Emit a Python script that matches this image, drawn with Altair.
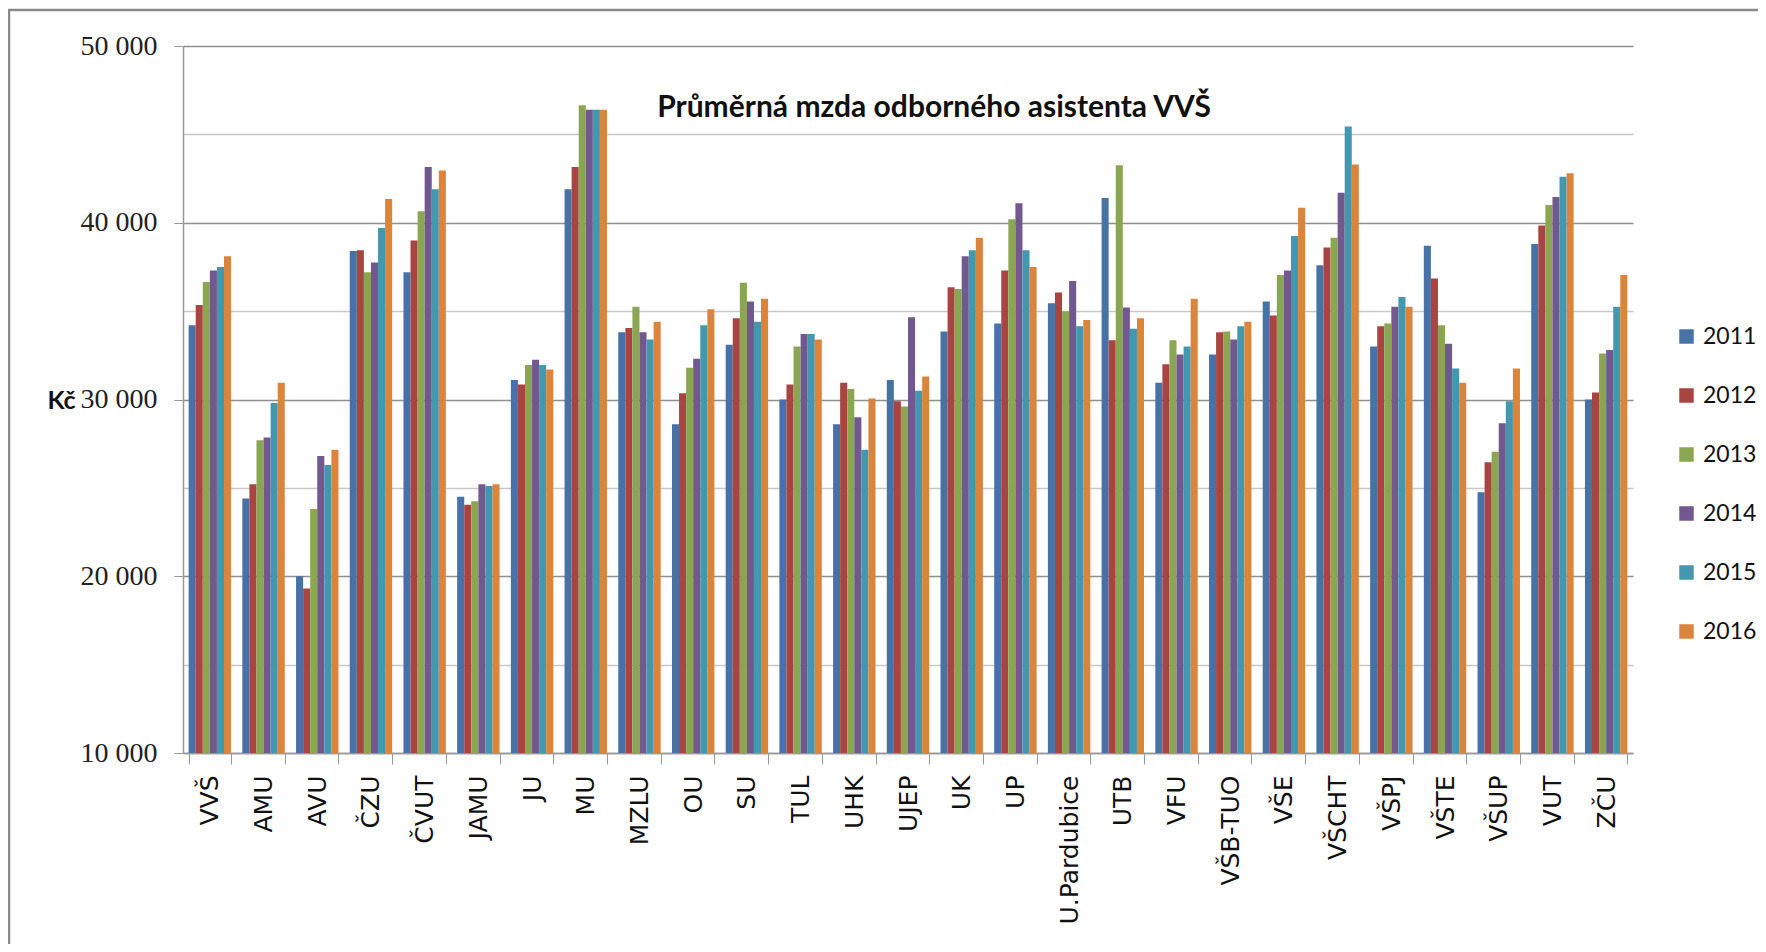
import altair as alt
import pandas as pd

TITLE = "Průměrná mzda odborného asistenta VVŠ"

schools = ["VVŠ", "AMU", "AVU", "ČZU", "ČVUT", "JAMU", "JU", "MU", "MZLU", "OU", "SU",
           "TUL", "UHK", "UJEP", "UK", "UP", "U.Pardubice", "UTB", "VFU", "VŠB-TUO",
           "VŠE", "VŠCHT", "VŠPJ", "VŠTE", "VŠUP", "VUT", "ZČU"]

years = ["2011", "2012", "2013", "2014", "2015", "2016"]

v2011 = [34200, 24400, 20000, 38400, 37200, 24500, 31100, 41900, 33800, 28600, 33100,
         30000, 28600, 31100, 33850, 34300, 35450, 41400, 30950, 32550,
         35550, 37600, 33000, 38700, 24750, 38800, 30000]
v2012 = [35350, 25200, 19300, 38450, 39000, 24050, 30850, 43150, 34050, 30350, 34600,
         30850, 30950, 29900, 36350, 37300, 36050, 33350, 32000, 33800,
         34750, 38600, 34150, 36850, 26450, 39850, 30400]
v2013 = [36650, 27700, 23800, 37200, 40650, 24250, 31950, 46650, 35250, 31800, 36600,
         33000, 30600, 29600, 36250, 40200, 35000, 43250, 33350, 33850,
         37050, 39150, 34300, 34200, 27050, 41000, 32600]
v2014 = [37300, 27850, 26800, 37750, 43150, 25200, 32250, 46400, 33800, 32300, 35550,
         33700, 29000, 34650, 38100, 41100, 36700, 35200, 32550, 33400,
         37300, 41700, 35250, 33150, 28650, 41450, 32800]
v2015 = [37500, 29800, 26300, 39700, 41900, 25100, 31950, 46400, 33400, 34200, 34400,
         33700, 27150, 30500, 38450, 38450, 34150, 34000, 33000, 34150,
         39250, 45450, 35800, 31750, 29900, 42600, 35250]
v2016 = [38100, 30950, 27150, 41350, 42950, 25200, 31700, 46400, 34400, 35100, 35700,
         33400, 30050, 31300, 39150, 37500, 34500, 34600, 35700, 34400,
         40850, 43300, 35250, 30950, 31750, 42800, 37050]

series = [v2011, v2012, v2013, v2014, v2015, v2016]
colors = ["#4672A8", "#A94442", "#8BA650", "#71588F", "#4198AF", "#DA843C"]

y_ticks = [10000, 15000, 20000, 25000, 30000, 35000, 40000, 45000, 50000]

rows = []
for yr, vals in zip(years, series):
    for s, v in zip(schools, vals):
        rows.append({"school": s, "year": yr, "value": v})
df = pd.DataFrame(rows)

W, H = 1450, 707

bars = alt.Chart(df).mark_bar(strokeWidth=0).encode(
    x=alt.X("school:N", sort=schools,
            scale=alt.Scale(paddingInner=0.21, paddingOuter=0.105),
            axis=alt.Axis(title=None, labelAngle=270, labelFont="DejaVu Sans",
                          labelFontSize=25, labelColor="#111", labelPadding=11,
                          tickBand="extent", tickSize=11, tickColor="#999",
                          domainColor="#999", domainWidth=1.5, grid=False)),
    xOffset=alt.XOffset("year:N", sort=years,
                        scale=alt.Scale(paddingInner=0, paddingOuter=0)),
    y=alt.Y("value:Q",
            scale=alt.Scale(domain=[10000, 50000], zero=False, nice=False),
            axis=alt.Axis(values=y_ticks, title="Kč", titleAngle=0,
                          titleFont="Lato", titleFontWeight="bold", titleFontSize=25,
                          titleColor="#111", titleAlign="center", titleBaseline="middle",
                          titleX=-122, titleY=354,
                          labelExpr="datum.value % 10000 === 0 ? replace(format(datum.value, ','), ',', ' ') : ''",
                          labelFont="Liberation Sans Narrow", labelFontSize=28,
                          labelColor="#222", labelPadding=17,
                          tickSize=9, tickColor="#999",
                          tickOpacity=alt.condition("datum.value % 10000 === 0", alt.value(1), alt.value(0)),
                          gridColor=alt.condition("datum.value % 10000 === 0", alt.value("#8f8f8f"), alt.value("#c8c8c8")),
                          gridWidth=1.3,
                          domainColor="#999", domainWidth=1.5)),
    y2=alt.datum(10000),
    color=alt.Color("year:N", sort=years,
                    scale=alt.Scale(domain=years, range=colors),
                    legend=alt.Legend(title=None, orient="none", legendX=1492, legendY=279,
                                      symbolType="square", symbolSize=210,
                                      symbolStrokeWidth=0, labelFont="Lato",
                                      labelFontSize=23, labelColor="#111",
                                      labelOffset=5, rowPadding=35, padding=0)),
)

title_df = pd.DataFrame({"t": [TITLE]})
title = alt.Chart(title_df).mark_text(
    font="Lato", fontWeight="bold", fontSize=30, color="#111",
    align="center", baseline="alphabetic"
).encode(x=alt.value(751), y=alt.value(71), text="t:N")

frame = alt.Chart(title_df).mark_rect(
    fill="transparent", stroke="#8a8a8a", strokeWidth=2.5
).encode(x=alt.value(-174), y=alt.value(-36), x2=alt.value(3000), y2=alt.value(3000))

chart = alt.layer(frame, bars, title).properties(
    width=W, height=H,
    autosize=alt.AutoSizeParams(type="none"),
    padding={"left": 175, "top": 38, "right": 125, "bottom": 191},
).configure_view(stroke=None)

chart.save("out.html", embed_options={"renderer": "svg", "actions": False})
